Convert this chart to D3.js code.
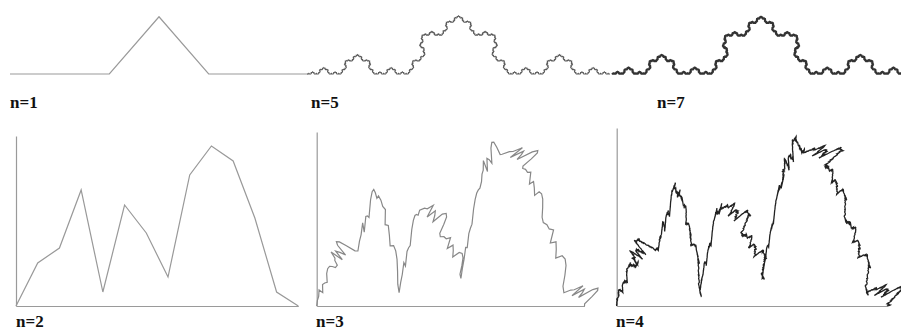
<!DOCTYPE html>
<html>
<head>
<meta charset="utf-8">
<script src="https://cdn.jsdelivr.net/npm/d3@7/dist/d3.min.js"></script>
<style>
  body { margin: 0; background: #fff; }
  svg { display: block; }
  .lbl { font-family: "Liberation Serif", "Times New Roman", serif; font-weight: bold; font-size: 17px; fill: #111; }
  .axis path { stroke: #9a9a9a; stroke-width: 1.2; }
</style>
</head>
<body>
<div id="chart"></div>
<script>
// Koch-type generator (top row)
const kochX = [0, 1/3, 1/2, 2/3, 1];
const kochY = [0, 0, 0.192, 0, 0];
const kochLevels = [1, 5, 7];

const profileX = [0, 1, 2, 3, 4, 5, 6, 7, 8, 9, 10, 11, 12, 13];
const profileY = [0, 43, 58, 116, 14, 101, 73, 29, 131, 160, 145, 88, 14, 0];
// lean of each copy: x-units and height-units per unit of generator height
const leanX = [-0.001, -0.0046, 0, 0.0009, 0, 0.0037, 0.0023, 0, -0.0012, 0.0065, 0.0014, 0.0023, 0.006];
const leanY = [0.06, 0.09, 0.14, 0.08, 0.10, 0.10, 0.08, 0.08, 0.134, 0.089, 0.08, 0.08, 0.091];
const profileLevels = [2, 3, 4];

const width = 901, height = 331;

const svg = d3.select("#chart").append("svg")
  .attr("width", width)
  .attr("height", height);

function kochCurve(n) {
  let pts = [[0, 0], [1, 0]];
  for (let k = 0; k < n; k++) {
    const next = [pts[0]];
    for (let i = 1; i < pts.length; i++) {
      const [ax, ay] = pts[i - 1], [bx, by] = pts[i];
      const dx = bx - ax, dy = by - ay;
      for (let j = 1; j < kochX.length; j++) {
        next.push([ax + dx * kochX[j] - dy * kochY[j], ay + dy * kochX[j] + dx * kochY[j]]);
      }
    }
    pts = next;
  }
  return pts;
}

function profileCurve(n) {
  const span = profileX[profileX.length - 1];
  let pts = [[0, 0], [span, 0]];
  for (let k = 1; k < n; k++) {
    const next = [];
    for (let i = 1; i < profileX.length; i++) {
      const x0 = profileX[i - 1], y0 = profileY[i - 1];
      const dx = profileX[i] - x0, dy = profileY[i] - y0;
      pts.forEach((p, j) => {
        if (i > 1 && j === 0) return;
        next.push([x0 + p[0] / span * dx + leanX[i - 1] * p[1],
                   y0 + p[0] / span * dy + leanY[i - 1] * p[1]]);
      });
    }
    pts = next;
  }
  return pts;
}

// top row
const kochPanels = [
  { x0: 10, x1: 308, base: 74, color: "#9a9a9a", sw: 1.2, lx: 10 },
  { x0: 307, x1: 610, base: 74, color: "#5a5a5a", sw: 1.1, lx: 311 },
  { x0: 612, x1: 910, base: 74, color: "#333", sw: 1.7, lx: 657 }
];

kochLevels.forEach((n, i) => {
  const p = kochPanels[i];
  const w = p.x1 - p.x0;
  const x = d3.scaleLinear().domain([0, 1]).range([p.x0, p.x1]);
  const y = d3.scaleLinear().domain([0, 1]).range([p.base, p.base - w]);
  const line = d3.line().x(d => x(d[0])).y(d => y(d[1]));
  svg.append("path")
    .attr("d", line(kochCurve(n)))
    .attr("fill", "none")
    .attr("stroke", p.color)
    .attr("stroke-width", p.sw);
  svg.append("text")
    .attr("class", "lbl")
    .attr("x", p.lx)
    .attr("y", 108)
    .text("n=" + n);
});

// bottom row
const profilePanels = [
  { x0: 16, x1: 298.3, top: 136, color: "#999", sw: 1.2, lx: 16 },
  { x0: 316.7, x1: 584.5, top: 132, color: "#888", sw: 1.2, lx: 316 },
  { x0: 616.7, x1: 887, top: 128, color: "#222", sw: 1.3, lx: 616 }
];
const base = 306;

profileLevels.forEach((n, i) => {
  const p = profilePanels[i];
  const k = (p.x1 - p.x0) / 282.3;
  const x = d3.scaleLinear().domain([0, 13]).range([p.x0, p.x1]);
  const y = d3.scaleLinear().domain([0, 160]).range([base, base - 160 * k]);
  const yAxis = d3.scaleLinear().domain([0, 1]).range([base, p.top]);

  svg.append("g")
    .attr("class", "axis")
    .attr("transform", "translate(" + p.x0 + ",0)")
    .call(d3.axisLeft(yAxis).ticks(0).tickSizeOuter(0));
  svg.append("g")
    .attr("class", "axis")
    .attr("transform", "translate(0," + base + ")")
    .call(d3.axisBottom(x).ticks(0).tickSizeOuter(0));

  const line = d3.line().x(d => x(d[0])).y(d => y(d[1]));
  svg.append("path")
    .attr("d", line(profileCurve(n)))
    .attr("fill", "none")
    .attr("stroke", p.color)
    .attr("stroke-width", p.sw);
  svg.append("text")
    .attr("class", "lbl")
    .attr("x", p.lx)
    .attr("y", 327)
    .text("n=" + n);
});
</script>
</body>
</html>
